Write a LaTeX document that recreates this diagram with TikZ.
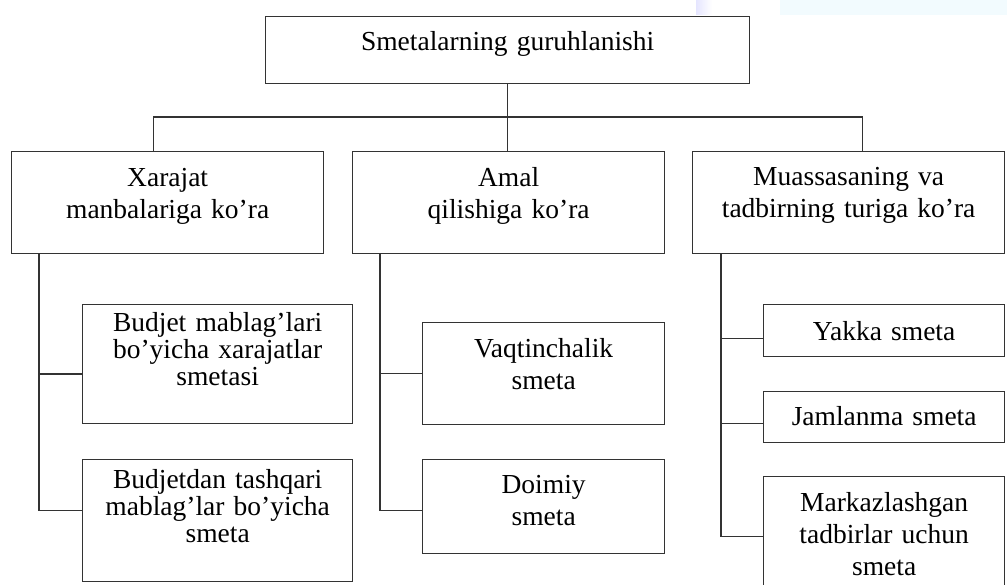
\documentclass[tikz,border=0pt]{standalone}
\usepackage{fontspec}
\setmainfont{Liberation Serif}
\begin{document}
\begin{tikzpicture}[x=1pt, y=-1pt,
        box/.style={draw=black!80, line width=1.3pt, inner sep=0pt, align=center,
            anchor=north west, font=\fontsize{27.5}{32}\selectfont},
        tight/.style={font=\fontsize{27.5}{27}\selectfont},
        link/.style={draw=black!80, line width=1.3pt}]
        \useasboundingbox (0,0) rectangle (1007,585);
        \fill[cyan!5] (780,0) rectangle (1007,15);
        \shade[left color=blue!10, right color=white] (696,0) rectangle (712,15);

        \node[box, text width=484pt, text height=34pt, text depth=33pt] (grp) at (265,16) {Smetalarning guruhlanishi};

        \node[box, text width=312pt, text height=35pt, text depth=67pt] (xar) at (11,151) {Xarajat\\manbalariga ko’ra};
        \node[box, text width=312pt, text height=35pt, text depth=67pt] (amal) at (352,151) {Amal\\qilishiga ko’ra};
        \node[box, text width=312pt, text height=34pt, text depth=68pt] (muas) at (692,151) {Muassasaning va\\tadbirning turiga ko’ra};

        \node[box, tight, text width=270pt, text height=27pt, text depth=92pt] (bmab) at (82,304) {Budjet mablag’lari\\bo’yicha xarajatlar\\smetasi};
        \node[box, tight, text width=270pt, text height=29pt, text depth=93pt] (btash) at (82,459) {Budjetdan tashqari\\mablag’lar bo’yicha\\smeta};
        \node[box, text width=242pt, text height=35pt, text depth=67pt] (vaqt) at (422,322) {Vaqtinchalik\\smeta};
        \node[box, text width=242pt, text height=34pt, text depth=60pt] (doim) at (422,459) {Doimiy\\smeta};
        \node[box, text width=241pt, text height=36pt, text depth=16pt] (yakka) at (763,304) {Yakka smeta};
        \node[box, text width=241pt, text height=34pt, text depth=17pt] (jaml) at (763,391) {Jamlanma smeta};
        \node[box, text width=241pt, text height=35pt, text depth=84pt] (mark) at (763,476) {Markazlashgan\\tadbirlar uchun\\smeta};

        % Edges
        \coordinate (bar) at (507,117);
        \draw[link] (grp.south) -- (grp.south |- amal.north);
        \draw[link] ([xshift=-14pt]xar.north) |- (bar) -| ([xshift=14pt]muas.north);

        \draw[link] ([xshift=28pt]xar.south west) |- ([yshift=-10pt]bmab.west);
        \draw[link] ([xshift=28pt]xar.south west) |- ([yshift=10pt]btash.west);
        \draw[link] ([xshift=28pt]amal.south west) |- (vaqt.west);
        \draw[link] ([xshift=28pt]amal.south west) |- ([yshift=-4pt]doim.west);
        \draw[link] ([xshift=29pt]muas.south west) |- ([yshift=-8pt]yakka.west);
        \draw[link] ([xshift=29pt]muas.south west) |- ([yshift=-6.5pt]jaml.west);
        \draw[link] ([xshift=29pt]muas.south west) |- (mark.west);
\end{tikzpicture}
\end{document}
